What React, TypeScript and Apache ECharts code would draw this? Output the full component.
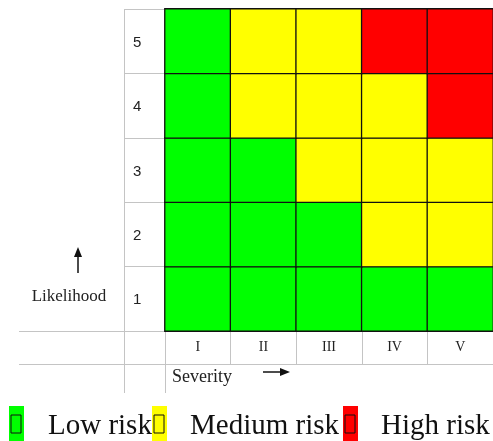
import React, { useEffect, useRef } from "react";
import * as echarts from "echarts";

const severityLabels = ["I", "II", "III", "IV", "V"];
const likelihoodLabels = ["1", "2", "3", "4", "5"];
// risk level per cell: 0 = low, 1 = medium, 2 = high; rows from likelihood 1 (bottom) to 5 (top)
const riskRow1 = [0, 0, 0, 0, 0];
const riskRow2 = [0, 0, 0, 1, 1];
const riskRow3 = [0, 0, 1, 1, 1];
const riskRow4 = [0, 1, 1, 1, 2];
const riskRow5 = [0, 1, 1, 2, 2];
const riskNames = ["Low risk", "Medium risk", "High risk"];
const riskColors = ["#00ff00", "#ffff00", "#ff0000"];

export default function App() {
  const ref = useRef<HTMLDivElement>(null);
  useEffect(() => {
    if (!ref.current) return;
    const chart = echarts.init(ref.current, null, { renderer: "svg" });
    const rows = [riskRow1, riskRow2, riskRow3, riskRow4, riskRow5];
    const data: number[][] = [];
    rows.forEach((row, y) => row.forEach((v, x) => data.push([x, y, v])));

    const gray = "#c4c4c4";
    const serif = "'Liberation Serif', 'Times New Roman', serif";
    const legendRectX = [9, 152, 343];
    const legendTextX = [48, 190, 381];

    const legendGraphics: any[] = [];
    riskNames.forEach((name, i) => {
      legendGraphics.push({
        type: "rect",
        shape: { x: legendRectX[i], y: 406, width: 15, height: 36 },
        style: { fill: riskColors[i] },
      });
      legendGraphics.push({
        type: "rect",
        shape: { x: legendRectX[i] + 2, y: 415, width: 10, height: 18 },
        style: { fill: "none", stroke: "#111", lineWidth: 1 },
      });
      legendGraphics.push({
        type: "text",
        x: legendTextX[i],
        y: 424,
        style: {
          text: name,
          font: `29px ${serif}`,
          fill: "#111",
          align: "left",
          verticalAlign: "middle",
        },
      });
    });

    chart.setOption({
      animation: false,
      grid: { left: 165, top: 9, width: 331, height: 322 },
      xAxis: {
        type: "category",
        data: severityLabels,
        position: "bottom",
        axisLine: { show: false },
        axisTick: { show: true, length: 33, lineStyle: { color: gray, width: 1 } },
        axisLabel: {
          margin: 8,
          fontFamily: serif,
          fontSize: 14,
          color: "#222",
        },
        splitLine: { show: false },
      },
      yAxis: {
        type: "category",
        data: likelihoodLabels,
        axisLine: { show: false },
        axisTick: { show: true, length: 41, lineStyle: { color: gray, width: 1 } },
        axisLabel: {
          margin: 32,
          align: "left",
          fontFamily: "'Liberation Sans', Arial, sans-serif",
          fontSize: 15,
          color: "#222",
        },
        splitLine: { show: false },
      },
      visualMap: {
        show: false,
        type: "piecewise",
        dimension: 2,
        pieces: riskNames.map((n, i) => ({ value: i, color: riskColors[i], label: n })),
      },
      series: [
        {
          type: "heatmap",
          data,
          itemStyle: { borderColor: "#111", borderWidth: 1.3 },
          emphasis: { disabled: true },
        },
      ],
      graphic: [
        { type: "line", shape: { x1: 124.5, y1: 9, x2: 124.5, y2: 393 }, style: { stroke: gray, lineWidth: 1 } },
        { type: "line", shape: { x1: 165.5, y1: 331, x2: 165.5, y2: 393 }, style: { stroke: gray, lineWidth: 1 } },
        { type: "line", shape: { x1: 19, y1: 331.5, x2: 124, y2: 331.5 }, style: { stroke: gray, lineWidth: 1 } },
        { type: "line", shape: { x1: 19, y1: 364.5, x2: 493, y2: 364.5 }, style: { stroke: gray, lineWidth: 1 } },
        { type: "line", shape: { x1: 78, y1: 255, x2: 78, y2: 273 }, style: { stroke: "#111", lineWidth: 1.5 } },
        { type: "polygon", shape: { points: [[74, 257], [82, 257], [78, 247]] }, style: { fill: "#111" } },
        { type: "line", shape: { x1: 263, y1: 372, x2: 282, y2: 372 }, style: { stroke: "#111", lineWidth: 1.5 } },
        { type: "polygon", shape: { points: [[280, 368], [280, 376], [290, 372]] }, style: { fill: "#111" } },
        {
          type: "text",
          x: 69,
          y: 295,
          style: { text: "Likelihood", font: `17px ${serif}`, fill: "#222", align: "center", verticalAlign: "middle" },
        },
        {
          type: "text",
          x: 172,
          y: 376,
          style: { text: "Severity", font: `18px ${serif}`, fill: "#222", align: "left", verticalAlign: "middle" },
        },
        ...legendGraphics,
      ],
    });
    return () => chart.dispose();
  }, []);
  return (
    <div
      ref={ref}
      style={{ position: "fixed", left: 0, top: 0, width: 493, height: 441 }}
    />
  );
}
